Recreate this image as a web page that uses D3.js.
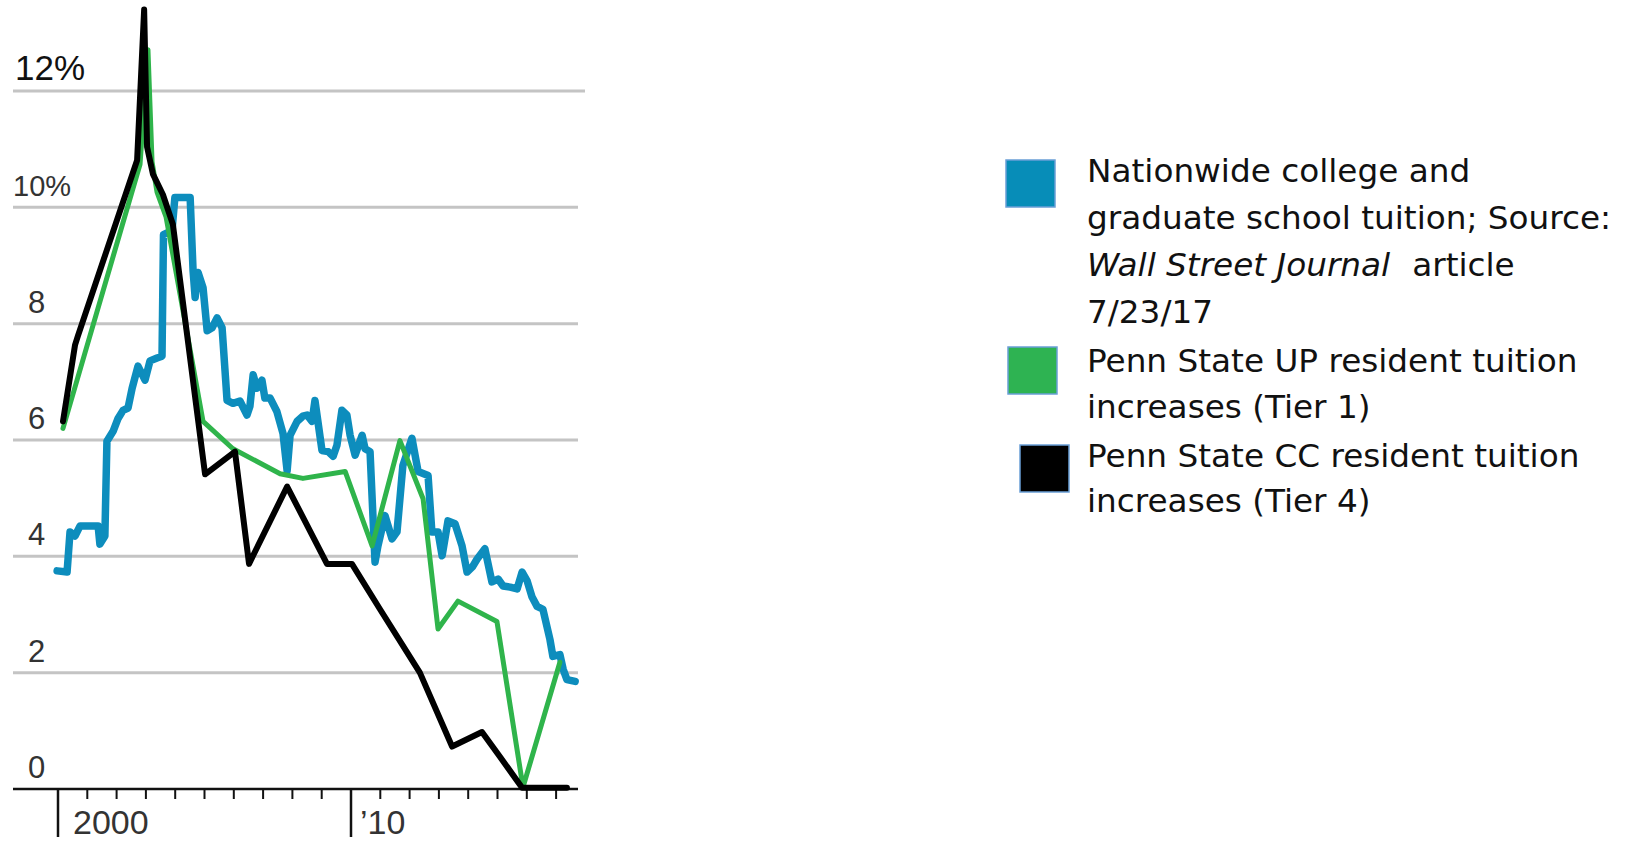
<!DOCTYPE html>
<html>
<head>
<meta charset="utf-8">
<script src="https://cdn.jsdelivr.net/npm/d3@7"></script>
<style>
    body { margin: 0; background: #ffffff; }
    #chart { width: 1640px; height: 843px; }
</style>
</head>
<body>
<div id="chart"></div>
<script>
// Tuition increase chart (percent change per year)

const yTicks = [0, 2, 4, 6, 8, 10, 12];
const yTickLabels = ['0', '2', '4', '6', '8', '10%', '12%'];
const xMajorTicks = [2000, 2010];
const xMajorLabels = ['2000', '\u201910'];
const xMinorTicks = [2001, 2002, 2003, 2004, 2005, 2006, 2007, 2008, 2009,
    2011, 2012, 2013, 2014, 2015, 2016, 2017];

// Nationwide college and graduate school tuition (WSJ)
const nationYears = [1999.97, 2000.31, 2000.41, 2000.58, 2000.75, 2001.37, 2001.43, 2001.60, 2001.67, 2001.88,
    2002.05, 2002.22, 2002.39, 2002.53, 2002.73, 2002.97, 2003.14, 2003.38, 2003.55, 2003.60,
    2003.89, 2003.99, 2004.51, 2004.61, 2004.68, 2004.78, 2004.95, 2005.09, 2005.26, 2005.43,
    2005.60, 2005.77, 2005.97, 2006.21, 2006.45, 2006.55, 2006.66, 2006.79, 2006.96, 2007.06,
    2007.24, 2007.47, 2007.68, 2007.82, 2007.92, 2008.16, 2008.36, 2008.50, 2008.67, 2008.77,
    2008.87, 2009.01, 2009.22, 2009.39, 2009.52, 2009.69, 2009.86, 2009.97, 2010.14, 2010.38,
    2010.48, 2010.65, 2010.82, 2010.92, 2011.16, 2011.40, 2011.57, 2011.77, 2012.08, 2012.29,
    2012.63, 2012.76, 2012.97, 2013.11, 2013.31, 2013.55, 2013.79, 2013.96, 2014.16, 2014.30,
    2014.57, 2014.81, 2015.02, 2015.19, 2015.43, 2015.67, 2015.84, 2016.01, 2016.18, 2016.35,
    2016.55, 2016.79, 2016.89, 2017.13, 2017.24, 2017.37, 2017.65];
const nationValues = [3.75, 3.73, 4.42, 4.35, 4.52, 4.52, 4.21, 4.35, 5.98, 6.15,
    6.37, 6.51, 6.55, 6.89, 7.27, 7.03, 7.36, 7.41, 7.44, 9.53,
    9.60, 10.17, 10.17, 8.91, 8.45, 8.88, 8.62, 7.88, 7.93, 8.10,
    7.93, 6.68, 6.63, 6.67, 6.43, 6.58, 7.12, 6.89, 7.03, 6.72,
    6.72, 6.49, 6.11, 5.47, 6.08, 6.32, 6.41, 6.43, 6.32, 6.68,
    6.32, 5.82, 5.80, 5.72, 5.91, 6.51, 6.43, 6.08, 5.74, 6.08,
    5.85, 5.80, 3.90, 4.18, 4.70, 4.30, 4.42, 5.56, 6.03, 5.46,
    5.39, 4.42, 4.42, 4.01, 4.61, 4.56, 4.18, 3.73, 3.83, 3.95,
    4.13, 3.56, 3.61, 3.49, 3.47, 3.44, 3.73, 3.58, 3.30, 3.14,
    3.09, 2.57, 2.28, 2.31, 2.06, 1.88, 1.85];

// Penn State UP resident tuition increases (Tier 1)
const upYears = [2000.17, 2001.02, 2002.80, 2003.07, 2003.21, 2003.38, 2003.69, 2004.95, 2005.97, 2007.58,
    2008.36, 2009.80, 2010.72, 2011.67, 2012.46, 2012.97, 2013.65, 2014.98, 2015.87, 2017.13];
const upValues = [6.20, 7.67, 10.74, 12.71, 10.78, 10.26, 9.83, 6.32, 5.85, 5.42,
    5.34, 5.46, 4.18, 5.99, 4.99, 2.75, 3.23, 2.88, 0.03, 2.18];

// Penn State CC resident tuition increases (Tier 4)
const ccYears = [2000.17, 2000.58, 2000.68, 2002.70, 2002.94, 2003.04, 2003.24, 2003.58, 2003.92, 2005.02,
    2006.04, 2006.52, 2007.82, 2009.18, 2010.03, 2010.99, 2012.35, 2013.45, 2014.47, 2015.09,
    2015.84, 2017.37];
const ccValues = [6.32, 7.63, 7.79, 10.81, 13.40, 11.04, 10.57, 10.22, 9.71, 5.41,
    5.80, 3.87, 5.20, 3.87, 3.87, 3.09, 2.00, 0.73, 0.98, 0.55,
    0.02, 0.02];

const legendColors = ['#078db8', '#2eb352', '#000000'];
const legendLines = [
    ['Nationwide college and', 'graduate school tuition; Source:', '@WSJ', '7/23/17'],
    ['Penn State UP resident tuition', 'increases (Tier 1)'],
    ['Penn State CC resident tuition', 'increases (Tier 4)']
];

class TuitionChart {
    constructor() {
        this.container = document.getElementById('chart');
        this.width = 1640;
        this.height = 843;
    }

    render() {
        const svg = d3.select(this.container)
            .append('svg')
            .attr('width', this.width)
            .attr('height', this.height);

        // scales
        const x = d3.scaleLinear().domain([2000, 2010]).range([58, 351]);
        const y = d3.scaleLinear().domain([0, 12]).range([789, 91]);
        const left = 13, right = 578;

        // gridlines
        svg.selectAll('.grid')
            .data(yTicks.filter(d => d > 0))
            .enter()
            .append('line')
            .attr('x1', left)
            .attr('x2', d => d === 12 ? right + 7 : right)
            .attr('y1', d => y(d))
            .attr('y2', d => y(d))
            .attr('stroke', '#c4c4c4')
            .attr('stroke-width', 3);

        // y labels
        svg.selectAll('.ylabel')
            .data(yTicks)
            .enter()
            .append('text')
            .attr('x', d => d === 12 ? 15 : (d === 10 ? 13 : 28))
            .attr('y', d => y(d) - 11)
            .text((d, i) => yTickLabels[i])
            .style('font-family', '"Liberation Sans", Arial, sans-serif')
            .style('font-size', d => d === 12 ? '35px' : (d === 10 ? '29px' : '31px'))
            .style('fill', d => d === 12 ? '#111' : '#333');

        // baseline + ticks
        svg.append('line')
            .attr('x1', left).attr('x2', right)
            .attr('y1', y(0)).attr('y2', y(0))
            .attr('stroke', '#111').attr('stroke-width', 2.5);

        svg.selectAll('.minor')
            .data(xMinorTicks)
            .enter()
            .append('line')
            .attr('x1', d => x(d)).attr('x2', d => x(d))
            .attr('y1', y(0)).attr('y2', y(0) + 10)
            .attr('stroke', '#111').attr('stroke-width', 2);

        svg.selectAll('.major')
            .data(xMajorTicks)
            .enter()
            .append('line')
            .attr('x1', d => x(d)).attr('x2', d => x(d))
            .attr('y1', y(0)).attr('y2', y(0) + 48)
            .attr('stroke', '#111').attr('stroke-width', 2.5);

        svg.selectAll('.xlabel')
            .data(xMajorTicks)
            .enter()
            .append('text')
            .attr('x', d => x(d) + (d === 2000 ? 15 : 9))
            .attr('y', y(0) + 45)
            .text((d, i) => xMajorLabels[i])
            .style('font-family', '"Liberation Sans", Arial, sans-serif')
            .style('font-size', '34px')
            .style('fill', '#333');

        // series lines
        const line = d3.line().x(d => x(d[0])).y(d => y(d[1]));
        const series = [
            { years: nationYears, values: nationValues, color: '#0d8dbd', width: 7.5 },
            { years: upYears, values: upValues, color: '#2fb44b', width: 5 },
            { years: ccYears, values: ccValues, color: '#000000', width: 6 }
        ];
        series.forEach(s => {
            svg.append('path')
                .datum(s.years.map((yr, i) => [yr, s.values[i]]))
                .attr('d', line)
                .attr('fill', 'none')
                .attr('stroke', s.color)
                .attr('stroke-width', s.width)
                .attr('stroke-linejoin', 'round')
                .attr('stroke-linecap', 'round');
        });

        this.renderLegend(svg);
    }

    renderLegend(svg) {
        const boxes = [
            { x: 1006, y: 160 },
            { x: 1008, y: 347 },
            { x: 1020, y: 445 }
        ];
        const baselines = [[182, 229, 276, 323], [372, 418], [467, 512]];

        legendLines.forEach((lines, i) => {
            svg.append('rect')
                .attr('x', boxes[i].x)
                .attr('y', boxes[i].y)
                .attr('width', 49)
                .attr('height', 47)
                .attr('fill', legendColors[i])
                .attr('stroke', '#6a9fd6')
                .attr('stroke-width', 1.5);

            lines.forEach((txt, j) => {
                const t = svg.append('text')
                    .attr('x', 1087)
                    .attr('y', baselines[i][j])
                    .style('font-family', '"DejaVu Sans", sans-serif')
                    .style('font-size', '32.7px')
                    .style('fill', '#111');
                if (txt === '@WSJ') {
                    t.append('tspan').style('font-style', 'italic').text('Wall Street Journal');
                    t.append('tspan').attr('dx', 22).text('article');
                } else {
                    t.text(txt);
                }
            });
        });
    }
}

window.tuitionChart = new TuitionChart();
window.tuitionChart.render();
</script>
</body>
</html>
